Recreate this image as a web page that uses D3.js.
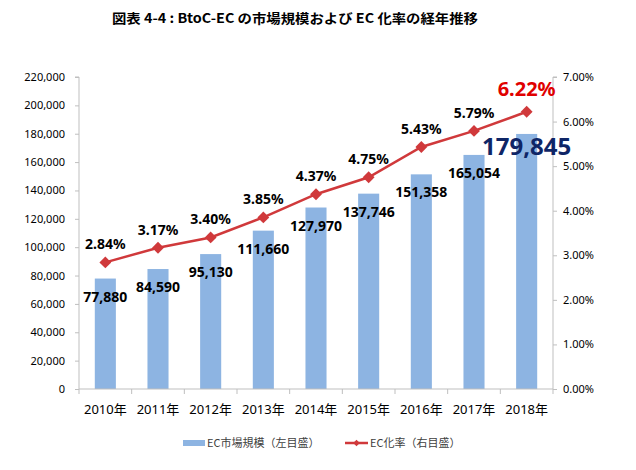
<!DOCTYPE html>
<html><head><meta charset="utf-8">
<script src="https://cdn.jsdelivr.net/npm/d3@7"></script>
<style>body{margin:0;background:#fff}svg{display:block}</style>
</head><body><svg id="c" width="636" height="470"></svg>
<script>
const years = ["2010年","2011年","2012年","2013年","2014年","2015年","2016年","2017年","2018年"];
const marketSize = [77880,84590,95130,111660,127970,137746,151358,165054,179845];
const ecRate = [2.84,3.17,3.40,3.85,4.37,4.75,5.43,5.79,6.22];
const leftTicks = [0,20000,40000,60000,80000,100000,120000,140000,160000,180000,200000,220000];
const rightTicks = [0,1,2,3,4,5,6,7];
const title = "図表 4-4 : BtoC-EC の市場規模および EC 化率の経年推移";
const legendLabels = ["EC市場規模（左目盛）","EC化率（右目盛）"];

const svg = d3.select("#c");
const L = 79, R = 553, T = 77, B = 389;
const axisColor = "#BFBFBF";
const barColor = "#8DB4E2";
const lineColor = "#D0393B";
const font = "'Noto Sans', 'Noto Sans CJK JP', sans-serif";

const x = d3.scaleBand().domain(years).range([L, R]).paddingInner(0.6).paddingOuter(0.3);
const yL = d3.scaleLinear().domain([0,220000]).range([B, T]);
const yR = d3.scaleLinear().domain([0,7]).range([B, T]);
const cx = d => x(d) + x.bandwidth()/2;

// title
svg.append("text").attr("x",295).attr("y",23).attr("text-anchor","middle")
  .attr("font-family","'Noto Sans CJK JP', serif").attr("font-weight","bold").attr("font-size",13)
  .attr("textLength",366).attr("lengthAdjust","spacingAndGlyphs")
  .text(title);

// bars
svg.append("g").selectAll("rect").data(years).join("rect")
  .attr("x", d => x(d)).attr("width", x.bandwidth())
  .attr("y", (d,i) => yL(marketSize[i])).attr("height", (d,i) => B - yL(marketSize[i]))
  .attr("fill", barColor);

// left axis
const gl = svg.append("g").attr("transform",`translate(${L},0)`)
  .call(d3.axisLeft(yL).tickValues(leftTicks).tickSize(4).tickPadding(10).tickFormat(d3.format(",")));
gl.select(".domain").attr("stroke",axisColor).attr("d",`M-4,${T}H0V${B}`);
gl.selectAll(".tick line").attr("stroke",axisColor);
gl.selectAll(".tick text").attr("font-family",font).attr("font-size",11).attr("fill","#000");

// right axis
const gr = svg.append("g").attr("transform",`translate(${R},0)`)
  .call(d3.axisRight(yR).tickValues(rightTicks).tickSize(4).tickPadding(6).tickFormat(d => d3.format(".2f")(d)+"%"));
gr.select(".domain").attr("stroke",axisColor).attr("d",`M4,${T}H0V${B}`);
gr.selectAll(".tick line").attr("stroke",axisColor);
gr.selectAll(".tick text").attr("font-family",font).attr("font-size",11).attr("fill","#000");

// bottom axis
const gb = svg.append("g").attr("transform",`translate(0,${B})`);
gb.append("line").attr("x1",L).attr("x2",R).attr("stroke",axisColor);
const bounds = d3.range(years.length+1).map(i => L + i*x.step());
gb.selectAll("line.t").data(bounds).join("line").attr("class","t")
  .attr("x1",d=>d).attr("x2",d=>d).attr("y1",0).attr("y2",5).attr("stroke",axisColor);
gb.selectAll("text").data(years).join("text")
  .attr("x", d => cx(d)).attr("y", 25).attr("text-anchor","middle")
  .attr("font-family",font).attr("font-size",13).attr("fill","#000").text(d=>d);

// line
const line = d3.line().x((d,i)=>cx(years[i])).y(d=>yR(d));
svg.append("path").datum(ecRate).attr("d",line).attr("fill","none")
  .attr("stroke",lineColor).attr("stroke-width",2.5);
const sym = d3.symbol(d3.symbolSquare, 70);
svg.append("g").selectAll("path").data(ecRate).join("path")
  .attr("d", sym).attr("fill",lineColor)
  .attr("transform",(d,i)=>`translate(${cx(years[i])},${yR(d)}) rotate(45)`);

// bar labels
svg.append("g").selectAll("text").data(marketSize).join("text")
  .attr("x",(d,i)=>cx(years[i]))
  .attr("y",(d,i)=> i===years.length-1 ? yL(d)+21 : yL(d)+23)
  .attr("text-anchor","middle").attr("font-family",font).attr("font-weight","bold")
  .attr("font-size",(d,i)=> i===years.length-1 ? 24 : 14)
  .attr("fill",(d,i)=> i===years.length-1 ? "#0E2566" : "#000")
  .text(d=>d3.format(",")(d));

// rate labels
svg.append("g").selectAll("text").data(ecRate).join("text")
  .attr("x",(d,i)=>cx(years[i]))
  .attr("y",(d,i)=> i===years.length-1 ? yR(d)-16 : yR(d)-13)
  .attr("text-anchor","middle").attr("font-family",font).attr("font-weight","bold")
  .attr("font-size",(d,i)=> i===years.length-1 ? 20 : 14)
  .attr("fill",(d,i)=> i===years.length-1 ? "#E00000" : "#000")
  .text(d=>d3.format(".2f")(d)+"%");

// legend
const lg = svg.append("g").attr("font-family","'Noto Sans CJK JP', sans-serif").attr("font-size",11).attr("fill","#404040");
lg.append("rect").attr("x",183).attr("y",440).attr("width",22).attr("height",6).attr("fill",barColor);
lg.append("text").attr("x",207).attr("y",447).text(legendLabels[0]);
lg.append("line").attr("x1",345).attr("x2",368).attr("y1",443).attr("y2",443).attr("stroke",lineColor).attr("stroke-width",2.5);
lg.append("path").attr("d",d3.symbol(d3.symbolSquare,22)).attr("fill",lineColor).attr("transform","translate(356.5,443) rotate(45)");
lg.append("text").attr("x",370).attr("y",447).text(legendLabels[1]);
</script></body></html>
